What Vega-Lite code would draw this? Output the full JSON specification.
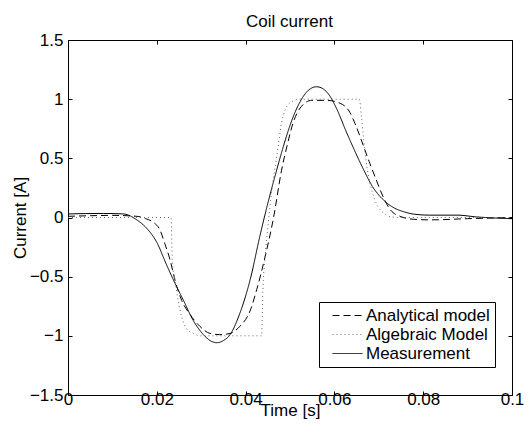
{
  "$schema": "https://vega.github.io/schema/vega-lite/v6.json",
  "width": 444,
  "height": 355,
  "autosize": {"type": "none"},
  "padding": {"left": 68, "top": 40, "right": 19, "bottom": 44},
  "background": "white",
  "config": {
    "font": "Liberation Sans",
    "view": {"stroke": "black", "strokeWidth": 1},
    "axis": {
      "domain": false, "grid": false,
      "tickColor": "black", "tickSize": -4, "tickWidth": 1,
      "labelColor": "black", "labelFontSize": 17, "labelFont": "Liberation Sans",
      "titleFontSize": 17, "titleFontWeight": "normal", "titleColor": "black", "titleFont": "Liberation Sans",
      "labelFlush": false, "labelOverlap": false, "labelBound": false
    }
  },
  "data": {
    "values": [
      {"s": "Measurement", "t": 0, "v": 0.03},
      {"s": "Measurement", "t": 0.004, "v": 0.033},
      {"s": "Measurement", "t": 0.008, "v": 0.034},
      {"s": "Measurement", "t": 0.0125, "v": 0.03},
      {"s": "Measurement", "t": 0.0155, "v": -0.02},
      {"s": "Measurement", "t": 0.0177, "v": -0.09},
      {"s": "Measurement", "t": 0.02, "v": -0.21},
      {"s": "Measurement", "t": 0.0222, "v": -0.4},
      {"s": "Measurement", "t": 0.0241, "v": -0.556},
      {"s": "Measurement", "t": 0.026, "v": -0.7},
      {"s": "Measurement", "t": 0.0282, "v": -0.87},
      {"s": "Measurement", "t": 0.0305, "v": -0.99},
      {"s": "Measurement", "t": 0.032, "v": -1.04},
      {"s": "Measurement", "t": 0.0336, "v": -1.058},
      {"s": "Measurement", "t": 0.035, "v": -1.04},
      {"s": "Measurement", "t": 0.0365, "v": -0.99},
      {"s": "Measurement", "t": 0.0387, "v": -0.81},
      {"s": "Measurement", "t": 0.041, "v": -0.53},
      {"s": "Measurement", "t": 0.0432, "v": -0.16},
      {"s": "Measurement", "t": 0.0448, "v": 0.09},
      {"s": "Measurement", "t": 0.0467, "v": 0.36},
      {"s": "Measurement", "t": 0.0485, "v": 0.6},
      {"s": "Measurement", "t": 0.0504, "v": 0.82},
      {"s": "Measurement", "t": 0.0523, "v": 0.98},
      {"s": "Measurement", "t": 0.054, "v": 1.07},
      {"s": "Measurement", "t": 0.056, "v": 1.105},
      {"s": "Measurement", "t": 0.0583, "v": 1.06},
      {"s": "Measurement", "t": 0.0605, "v": 0.92},
      {"s": "Measurement", "t": 0.0625, "v": 0.74},
      {"s": "Measurement", "t": 0.0645, "v": 0.57},
      {"s": "Measurement", "t": 0.0665, "v": 0.41},
      {"s": "Measurement", "t": 0.0686, "v": 0.26},
      {"s": "Measurement", "t": 0.071, "v": 0.15},
      {"s": "Measurement", "t": 0.0735, "v": 0.08},
      {"s": "Measurement", "t": 0.0755, "v": 0.05},
      {"s": "Measurement", "t": 0.078, "v": 0.028},
      {"s": "Measurement", "t": 0.0815, "v": 0.02},
      {"s": "Measurement", "t": 0.0876, "v": 0.02},
      {"s": "Measurement", "t": 0.092, "v": 0.005},
      {"s": "Measurement", "t": 0.1, "v": -0.01},
      {"s": "Analytical model", "t": 0, "v": 0.01},
      {"s": "Analytical model", "t": 0.005, "v": 0.015},
      {"s": "Analytical model", "t": 0.01, "v": 0.018},
      {"s": "Analytical model", "t": 0.0155, "v": 0.01},
      {"s": "Analytical model", "t": 0.0175, "v": -0.01},
      {"s": "Analytical model", "t": 0.0192, "v": -0.04},
      {"s": "Analytical model", "t": 0.0207, "v": -0.105},
      {"s": "Analytical model", "t": 0.0218, "v": -0.22},
      {"s": "Analytical model", "t": 0.023, "v": -0.36},
      {"s": "Analytical model", "t": 0.0241, "v": -0.53},
      {"s": "Analytical model", "t": 0.0256, "v": -0.7},
      {"s": "Analytical model", "t": 0.0275, "v": -0.82},
      {"s": "Analytical model", "t": 0.0297, "v": -0.92},
      {"s": "Analytical model", "t": 0.032, "v": -0.98},
      {"s": "Analytical model", "t": 0.0342, "v": -0.99},
      {"s": "Analytical model", "t": 0.0365, "v": -0.98},
      {"s": "Analytical model", "t": 0.0387, "v": -0.92},
      {"s": "Analytical model", "t": 0.041, "v": -0.79},
      {"s": "Analytical model", "t": 0.0425, "v": -0.61},
      {"s": "Analytical model", "t": 0.0444, "v": -0.33},
      {"s": "Analytical model", "t": 0.0463, "v": 0.0},
      {"s": "Analytical model", "t": 0.0481, "v": 0.4},
      {"s": "Analytical model", "t": 0.0493, "v": 0.6},
      {"s": "Analytical model", "t": 0.0507, "v": 0.8},
      {"s": "Analytical model", "t": 0.0526, "v": 0.94},
      {"s": "Analytical model", "t": 0.0549, "v": 0.99},
      {"s": "Analytical model", "t": 0.0583, "v": 0.99},
      {"s": "Analytical model", "t": 0.0613, "v": 0.965},
      {"s": "Analytical model", "t": 0.0633, "v": 0.9},
      {"s": "Analytical model", "t": 0.0648, "v": 0.78},
      {"s": "Analytical model", "t": 0.0663, "v": 0.63},
      {"s": "Analytical model", "t": 0.0678, "v": 0.475},
      {"s": "Analytical model", "t": 0.0693, "v": 0.33},
      {"s": "Analytical model", "t": 0.0708, "v": 0.19},
      {"s": "Analytical model", "t": 0.0725, "v": 0.07},
      {"s": "Analytical model", "t": 0.0748, "v": 0.01},
      {"s": "Analytical model", "t": 0.0778, "v": -0.015},
      {"s": "Analytical model", "t": 0.0815, "v": -0.02},
      {"s": "Analytical model", "t": 0.09, "v": -0.01},
      {"s": "Analytical model", "t": 0.1, "v": 0},
      {"s": "Algebraic Model", "t": 0, "v": 0},
      {"s": "Algebraic Model", "t": 0.0232, "v": 0},
      {"s": "Algebraic Model", "t": 0.0235, "v": -0.36},
      {"s": "Algebraic Model", "t": 0.0241, "v": -0.53},
      {"s": "Algebraic Model", "t": 0.0248, "v": -0.7},
      {"s": "Algebraic Model", "t": 0.0256, "v": -0.84},
      {"s": "Algebraic Model", "t": 0.0267, "v": -0.94},
      {"s": "Algebraic Model", "t": 0.0282, "v": -0.98},
      {"s": "Algebraic Model", "t": 0.03, "v": -1},
      {"s": "Algebraic Model", "t": 0.0436, "v": -1},
      {"s": "Algebraic Model", "t": 0.0439, "v": -0.61},
      {"s": "Algebraic Model", "t": 0.0444, "v": -0.33},
      {"s": "Algebraic Model", "t": 0.0451, "v": -0.05},
      {"s": "Algebraic Model", "t": 0.0459, "v": 0.23},
      {"s": "Algebraic Model", "t": 0.047, "v": 0.51},
      {"s": "Algebraic Model", "t": 0.0481, "v": 0.8},
      {"s": "Algebraic Model", "t": 0.0493, "v": 0.94},
      {"s": "Algebraic Model", "t": 0.0507, "v": 0.985},
      {"s": "Algebraic Model", "t": 0.052, "v": 1},
      {"s": "Algebraic Model", "t": 0.0656, "v": 1},
      {"s": "Algebraic Model", "t": 0.0661, "v": 0.85},
      {"s": "Algebraic Model", "t": 0.0666, "v": 0.655},
      {"s": "Algebraic Model", "t": 0.0672, "v": 0.46},
      {"s": "Algebraic Model", "t": 0.068, "v": 0.29},
      {"s": "Algebraic Model", "t": 0.0691, "v": 0.15},
      {"s": "Algebraic Model", "t": 0.0707, "v": 0.05},
      {"s": "Algebraic Model", "t": 0.0729, "v": 0.005},
      {"s": "Algebraic Model", "t": 0.075, "v": 0},
      {"s": "Algebraic Model", "t": 0.1, "v": 0}
    ]
  },
  "layer": [
    {
      "mark": {"type": "line", "strokeWidth": 1, "interpolate": "monotone"},
      "encoding": {
        "x": {
          "field": "t", "type": "quantitative",
          "scale": {"domain": [0, 0.1], "nice": false, "zero": false},
          "axis": {
            "orient": "bottom",
            "values": [0, 0.02, 0.04, 0.06, 0.08, 0.1],
            "labelExpr": "format(datum.value, '.2~f')",
            "labelPadding": 0,
            "title": "Time [s]",
            "titleBaseline": "alphabetic",
            "titleX": 222,
            "titleY": 20
          }
        },
        "y": {
          "field": "v", "type": "quantitative",
          "scale": {"domain": [-1.5, 1.5], "nice": false, "zero": false},
          "axis": {
            "orient": "left",
            "values": [-1.5, -1, -0.5, 0, 0.5, 1, 1.5],
            "labelExpr": "format(datum.value, '.1~f')",
            "labelPadding": 9,
            "title": "Current [A]",
            "titleBaseline": "alphabetic",
            "titleAngle": 270,
            "titleX": -43,
            "titleY": 177.5
          }
        },
        "color": {
          "field": "s", "type": "nominal",
          "scale": {"domain": ["Analytical model", "Algebraic Model", "Measurement"], "range": ["black", "#666666", "black"]},
          "legend": {
            "title": null, "orient": "none", "legendX": 251, "legendY": 262,
            "symbolType": "M0,0L6,0", "symbolSize": 100, "symbolStrokeWidth": 1,
            "labelFontSize": 17, "labelFont": "Liberation Sans", "labelColor": "black",
            "labelOffset": 25, "padding": 5, "rowPadding": 1,
            "strokeColor": "black", "fillColor": "white",
            "labelExpr": "datum.label + '    '", "labelLimit": 0
          }
        },
        "strokeDash": {
          "field": "s", "type": "nominal",
          "scale": {"domain": ["Analytical model", "Algebraic Model", "Measurement"], "range": [[7, 4], [1, 3], [1, 0]]},
          "legend": {
            "title": null, "orient": "none", "legendX": 251, "legendY": 262,
            "symbolType": "M0,0L6,0", "symbolSize": 100, "symbolStrokeWidth": 1,
            "labelFontSize": 17, "labelFont": "Liberation Sans", "labelColor": "black",
            "labelOffset": 25, "padding": 5, "rowPadding": 1,
            "strokeColor": "black", "fillColor": "white",
            "labelExpr": "datum.label + '    '", "labelLimit": 0
          }
        }
      }
    },
    {
      "mark": {"type": "line", "opacity": 0},
      "encoding": {
        "x": {
          "field": "t", "type": "quantitative",
          "axis": {
            "orient": "top", "values": [0, 0.02, 0.04, 0.06, 0.08, 0.1], "labels": false,
            "title": "Coil current", "titleBaseline": "alphabetic", "titleX": 221, "titleY": -14
          }
        },
        "y": {
          "field": "v", "type": "quantitative",
          "axis": {"orient": "right", "values": [-1.5, -1, -0.5, 0, 0.5, 1, 1.5], "labels": false, "title": null}
        },
        "detail": {"field": "s"}
      }
    }
  ],
  "resolve": {"axis": {"x": "independent", "y": "independent"}}
}
